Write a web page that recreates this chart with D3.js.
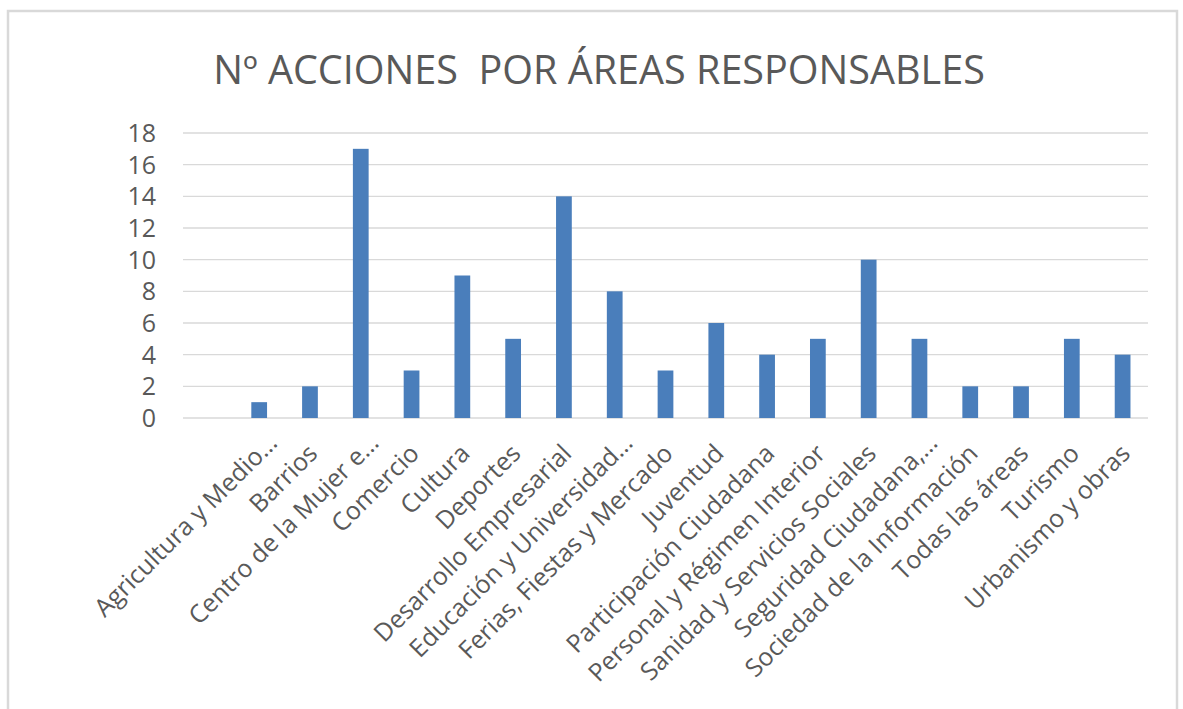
<!DOCTYPE html>
<html>
<head>
<meta charset="utf-8">
<script src="https://cdn.jsdelivr.net/npm/d3@7"></script>
<style>
  body { margin: 0; background: #fff; }
  svg { display: block; }
  text { font-family: "Open Sans", "Noto Sans", sans-serif; fill: #595959; }
</style>
</head>
<body>
<div id="chart"></div>
<script>
// first slot is empty in the original chart
var categories = ["", "Agricultura y Medio…", "Barrios", "Centro de la Mujer e…", "Comercio", "Cultura",
  "Deportes", "Desarrollo Empresarial", "Educación y Universidad…", "Ferias, Fiestas y Mercado",
  "Juventud", "Participación Ciudadana", "Personal y Régimen Interior", "Sanidad y Servicios Sociales",
  "Seguridad Ciudadana,…", "Sociedad de la Información", "Todas las áreas", "Turismo", "Urbanismo y obras"];
var values = [0, 1, 2, 17, 3, 9, 5, 14, 8, 3, 6, 4, 5, 10, 5, 2, 2, 5, 4];
var yTicks = [0, 2, 4, 6, 8, 10, 12, 14, 16, 18];
var title = "Nº ACCIONES  POR ÁREAS RESPONSABLES";

const W = 1183, H = 709;
const plotL = 183, plotR = 1148, plotT = 133, plotB = 418;

const svg = d3.select('#chart').append('svg')
  .attr('width', W)
  .attr('height', H);

// frame
svg.append('rect')
  .attr('x', 8).attr('y', 11)
  .attr('width', 1169).attr('height', 720)
  .attr('fill', 'none')
  .attr('stroke', '#d9d9d9')
  .attr('stroke-width', 2.5);

var t = svg.append('text')
  .attr('x', (213 + 985) / 2)
  .attr('y', 84)
  .attr('text-anchor', 'middle')
  .style('white-space', 'pre')
  .style('font-size', '36px')
  .text(title);
// fit title width to the original
var tw = t.node().getComputedTextLength();
t.style('font-size', (36 * 772 / tw) + 'px');

const x = d3.scaleBand()
  .domain(categories)
  .range([plotL, plotR])
  .paddingInner(0.69)
  .paddingOuter(0.345);

const y = d3.scaleLinear()
  .domain([0, 18])
  .range([plotB, plotT]);

// grid
svg.append('g')
  .selectAll('line')
  .data(yTicks)
  .join('line')
  .attr('x1', plotL).attr('x2', plotR)
  .attr('y1', d => y(d)).attr('y2', d => y(d))
  .attr('stroke', '#d9d9d9')
  .attr('stroke-width', 1.3);

// y labels
svg.append('g')
  .selectAll('text')
  .data(yTicks)
  .join('text')
  .attr('x', 156)
  .attr('y', d => y(d))
  .attr('dy', '0.36em')
  .attr('text-anchor', 'end')
  .style('font-size', '25px')
  .text(d => d);

// bars
svg.append('g')
  .selectAll('rect')
  .data(categories)
  .join('rect')
  .attr('x', d => x(d))
  .attr('width', x.bandwidth())
  .attr('y', (d, i) => y(values[i]))
  .attr('height', (d, i) => y(0) - y(values[i]))
  .attr('fill', '#4a7ebb');

// rotated category labels
svg.append('g')
  .selectAll('text')
  .data(categories)
  .join('text')
  .attr('transform', d => 'translate(' + (x(d) + x.bandwidth() / 2 + 9) + ',' + (plotB + 37) + ') rotate(-45)')
  .attr('text-anchor', 'end')
  .attr('dx', d => d.endsWith('…') ? 15 : 0)
  .style('font-size', '25px')
  .text(d => d);
</script>
</body>
</html>
